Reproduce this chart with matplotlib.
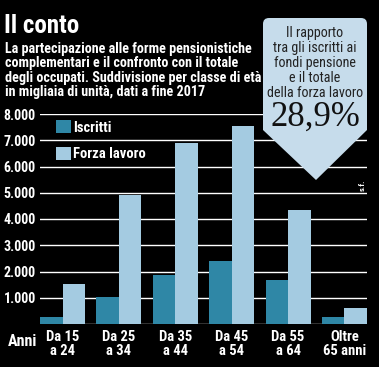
import numpy as np
import matplotlib
matplotlib.use('Agg')
from matplotlib import pyplot as plt
from matplotlib import font_manager as fm
from matplotlib.patches import FancyBboxPatch, Polygon

categories = ['Da 15\na 24', 'Da 25\na 34', 'Da 35\na 44', 'Da 45\na 54', 'Da 55\na 64', 'Oltre\n65 anni']
iscritti = [276, 1038, 1877, 2410, 1686, 276]
forza_lavoro = [1533, 4926, 6908, 7556, 4355, 619]
yticks = [1000, 2000, 3000, 4000, 5000, 6000, 7000, 8000]
ytick_labels = ['1.000', '2.000', '3.000', '4.000', '5.000', '6.000', '7.000', '8.000']

installed = {f.name for f in fm.fontManager.ttflist}
cands = ['Roboto Condensed', 'Fira Sans Condensed', 'Barlow Condensed', 'Archivo Narrow',
         'PT Sans Narrow', 'Saira SemiCondensed', 'Sofia Sans Condensed']
cond = [c for c in cands if c in installed][:1]
plt.rcParams['font.family'] = cond + ['DejaVu Sans']

dark = '#2f87a6'
light = '#a4cbe1'
boxc = '#c6dceb'

W, H = 379, 367
fig = plt.figure(figsize=(W / 100, H / 100), dpi=100, facecolor='black')

# axes in pixel coordinates: left 40, right 367, top 114, bottom 324
ax = fig.add_axes([40 / W, 1 - 324 / H, 327 / W, 210 / H])
ax.set_facecolor('black')
x = np.arange(len(categories))
w = 0.4
ax.bar(x - w / 2, iscritti, w, color=dark, zorder=3, label='Iscritti')
ax.bar(x + w / 2, forza_lavoro, w, color=light, zorder=3, label='Forza lavoro')
ax.set_xlim(-0.4, 5.4)
ax.set_ylim(0, 8000)
for v in [0] + yticks:
    ax.axhline(v, color='white', lw=1, zorder=1)
ax.set_yticks(yticks)
ax.set_yticklabels(ytick_labels)
ax.set_xticks(x)
ax.set_xticklabels(categories, linespacing=1.0)
ax.tick_params(length=0, colors='white', pad=3)
ax.tick_params(axis='y', labelsize=10)
ax.tick_params(axis='x', labelsize=10.5, pad=4)
for t in ax.get_xticklabels() + ax.get_yticklabels():
    t.set_fontweight('bold')
    t.set_color('white')
for s in ax.spines.values():
    s.set_visible(False)

leg = ax.legend(loc='upper left', bbox_to_anchor=(16 / 327, 1 - 6 / 210), frameon=False,
                fontsize=10.5, handlelength=1.0, handleheight=1.0, labelspacing=0.85,
                handletextpad=0.15, borderaxespad=0, borderpad=0)
for t in leg.get_texts():
    t.set_color('white')
    t.set_fontweight('bold')

fig.text(8 / W, 1 - 342 / H, 'Anni', color='white', fontsize=11.5, fontweight='bold',
         va='center', ha='left')

fig.text(4 / W, 1 - 26 / H, 'Il conto', color='white', fontsize=18, fontweight='bold',
         va='center', ha='left')
fig.text(5 / W, 1 - 42 / H,
         'La partecipazione alle forme pensionistiche\ncomplementari e il confronto con il totale\n'
         'degli occupati. Suddivisione per classe di età\nin migliaia di unità, dati a fine 2017',
         color='white', fontsize=10.2, fontweight='bold', va='top', ha='left', linespacing=1.03)

# callout box
ov = fig.add_axes([0, 0, 1, 1])
ov.set_xlim(0, W)
ov.set_ylim(H, 0)
ov.axis('off')
ov.patch.set_alpha(0)
ov.add_patch(FancyBboxPatch((263, 18), 104, 110, boxstyle='round,pad=0,rounding_size=6',
                            fc=boxc, ec='none', zorder=4))
ov.add_patch(Polygon([(263, 120), (367, 120), (367, 130), (316, 180), (263, 130)],
                     closed=True, fc=boxc, ec='none', zorder=4))
ov.text(315, 63, 'Il rapporto\ntra gli iscritti ai\nfondi pensione\ne il totale\ndella forza lavoro',
        ha='center', va='center', fontsize=10.2, color='#222222', linespacing=1.08, zorder=5)
ov.text(315, 117, '28,9%', ha='center', va='center', fontsize=25, color='#111111',
        family='Liberation Serif', zorder=5)
ov.text(362, 185, 's.f.', ha='center', va='center', fontsize=6, color='white',
        rotation=90, fontweight='bold', zorder=5)

fig.savefig('out.png', dpi=100, facecolor='black')
